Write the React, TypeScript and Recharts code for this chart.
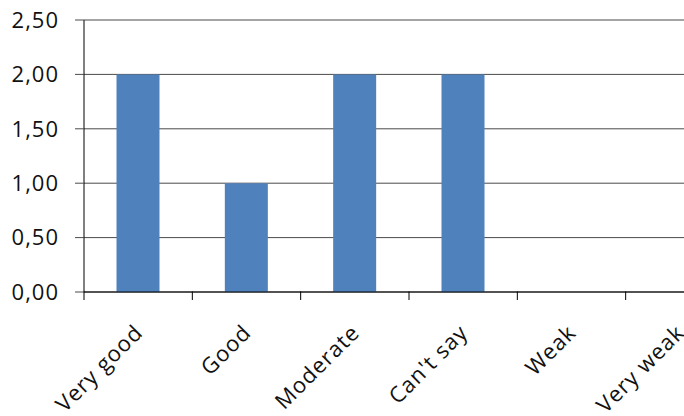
import React from 'react';
import { BarChart, Bar, XAxis, YAxis, CartesianGrid } from 'recharts';

const categories = ['Very  good', 'Good', 'Moderate', "Can't say", 'Weak', 'Very weak'];
const scores = [2, 1, 2, 2, 0, 0];
const yTicks = [0, 0.5, 1, 1.5, 2, 2.5];

const data = categories.map((name, i) => ({ name, score: scores[i] }));

const font = '"Open Sans", "Noto Sans", sans-serif';

// Label rotated up to the right, plus Excel-style tick marks on the band edges
const CategoryTick = (props: any) => {
  const { x, y, payload, index, visibleTicksCount } = props;
  const half = payload.offset ?? 0;
  const axisY = y - 2;
  const isLast = index === visibleTicksCount - 1;
  return (
    <g>
      <line x1={x - half} x2={x - half} y1={axisY - 0.5} y2={axisY + 8} stroke="#000" />
      {isLast && <line x1={x + half} x2={x + half} y1={axisY - 0.5} y2={axisY + 8} stroke="#000" />}
      <text
        transform={`translate(${x + 6},${y + 40}) rotate(-45)`}
        textAnchor="end"
        fontSize={22}
        letterSpacing={1}
        fontFamily={font}
        fill="#111"
      >
        {payload.value}
      </text>
    </g>
  );
};

export default function App() {
  return (
    <div
      style={{
        position: 'absolute',
        left: 0,
        top: 0,
        width: 684,
        height: 416,
        overflow: 'hidden',
        background: '#fff',
      }}
    >
      <BarChart
        width={740}
        height={416}
        data={data}
        margin={{ top: 20, right: 6, bottom: 0, left: 0 }}
        barCategoryGap="30%"
      >
        <CartesianGrid vertical={false} stroke="#4a4a4a" strokeWidth={1} />
        <XAxis
          dataKey="name"
          height={124}
          interval={0}
          tickSize={0}
          tickMargin={2}
          axisLine={{ stroke: '#000', strokeWidth: 1 }}
          tickLine={false}
          tick={<CategoryTick />}
        />
        <YAxis
          width={84}
          domain={[0, 2.5]}
          ticks={yTicks}
          interval={0}
          tickSize={9}
          tickMargin={16}
          axisLine={{ stroke: '#000', strokeWidth: 1 }}
          tickLine={{ stroke: '#4a4a4a' }}
          tickFormatter={(v: number) => v.toFixed(2).replace('.', ',')}
          tick={{ fontSize: 22, letterSpacing: 1, fontFamily: font, fill: '#111' }}
        />
        <Bar dataKey="score" fill="#4F81BD" isAnimationActive={false} />
      </BarChart>
    </div>
  );
}
